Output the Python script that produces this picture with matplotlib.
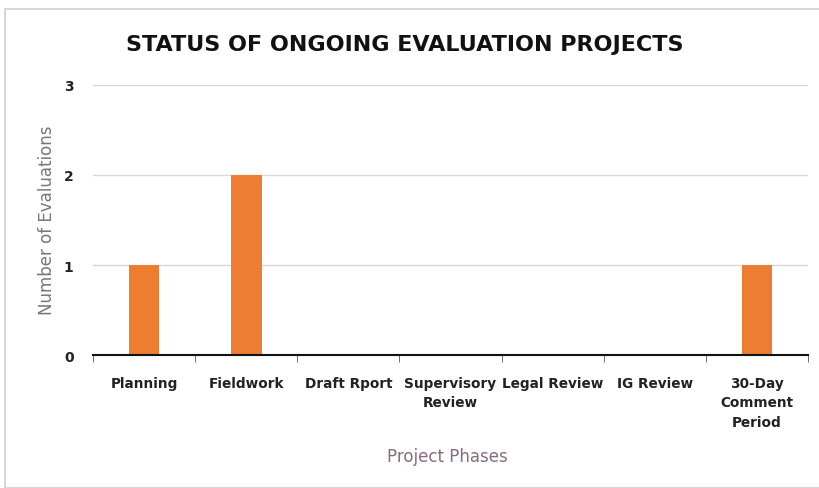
import matplotlib
matplotlib.use("Agg")
import matplotlib.pyplot as plt
from matplotlib.patches import Rectangle
from matplotlib.ticker import FixedLocator

categories = ["Planning", "Fieldwork", "Draft Rport", "Supervisory\nReview",
              "Legal Review", "IG Review", "30-Day\nComment\nPeriod"]
values = [1, 2, 0, 0, 0, 0, 1]
yticks = [0, 1, 2, 3]

W, H = 819, 489
fig = plt.figure(figsize=(W/100, H/100), dpi=100)
fig.patch.set_facecolor("white")
fig.add_artist(Rectangle((5/W, 0.0), 1.0, 1 - 10/H, transform=fig.transFigure,
                         fill=False, edgecolor="#d0d0d0", linewidth=1.2))

ax = fig.add_axes([93/W, 1 - 356/H, (808-93)/W, (356-86)/H])
x = list(range(len(categories)))
ax.bar(x, values, width=0.3, color="#ED7D31", zorder=3)
ax.set_xlim(-0.5, len(categories) - 0.5)
ax.set_ylim(0, 3)
ax.set_yticks(yticks)
ax.set_yticklabels([str(t) for t in yticks], fontsize=10, fontweight="bold",
                   color="#222222")
ax.set_xticks(x)
ax.set_xticklabels(categories, fontsize=9.8, fontweight="bold", color="#222222",
                   linespacing=1.5)
ax.tick_params(axis="x", length=0, pad=15)
ax.tick_params(axis="y", length=0, pad=14)
ax.xaxis.set_minor_locator(FixedLocator([i - 0.5 for i in range(len(categories) + 1)]))
ax.tick_params(axis="x", which="minor", length=5, color="#555555", direction="out")
ax.grid(axis="y", color="#d9d9d9", linewidth=1, zorder=0)
for s in ["top", "right", "left"]:
    ax.spines[s].set_visible(False)
ax.spines["bottom"].set_color("#111111")
ax.spines["bottom"].set_linewidth(1.5)
ax.spines["bottom"].set_zorder(4)

fig.text(405/W, 1 - 45/H, "STATUS OF ONGOING EVALUATION PROJECTS", ha="center", va="center",
         fontsize=16, fontweight="bold", color="#111111")
fig.text(47/W, 1 - 220/H, "Number of Evaluations", rotation=90, ha="center", va="center",
         fontsize=12, color="#777777")
fig.text(447/W, 1 - 457/H, "Project Phases", ha="center", va="center",
         fontsize=12, color="#8a6a80")

fig.savefig("out.png", dpi=100)
